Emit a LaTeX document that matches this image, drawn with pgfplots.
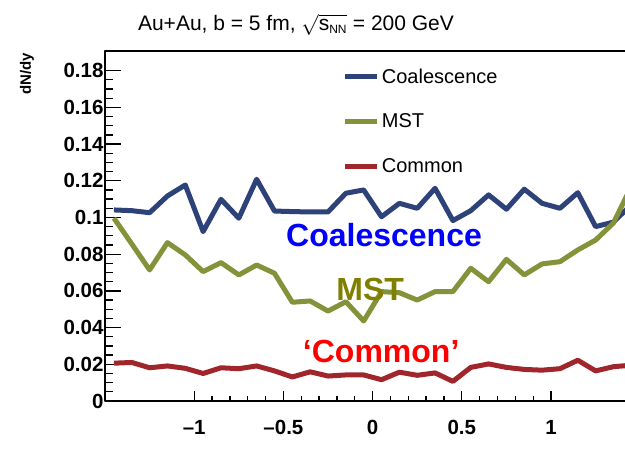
\documentclass[border=0pt]{standalone}
\usepackage{pgfplots}
\pgfplotsset{compat=1.18}
\usepackage{pgfplotstable}
\usepackage{fontspec}
\setmainfont{Liberation Sans}

\definecolor{coalblue}{RGB}{46,66,122}
\definecolor{mstgreen}{RGB}{132,146,58}
\definecolor{commonred}{RGB}{160,38,44}
\definecolor{annblue}{RGB}{0,0,255}
\definecolor{annolive}{RGB}{128,128,0}
\definecolor{annred}{RGB}{255,0,0}

% dN/dy per rapidity bin (bin width 0.1)
\pgfplotstableread{
y     coal    mst     common
-1.45 0.1041  0.0996  0.0206
-1.35 0.1037  0.0856  0.0210
-1.25 0.1026  0.0714  0.0181
-1.15 0.1117  0.0863  0.0191
-1.05 0.1177  0.0796  0.0178
-0.95 0.0923  0.0705  0.0150
-0.85 0.1099  0.0754  0.0181
-0.75 0.0996  0.0687  0.0176
-0.65 0.1208  0.0741  0.0191
-0.55 0.1035  0.0696  0.0164
-0.45 0.1032  0.0538  0.0131
-0.35 0.1030  0.0545  0.0159
-0.25 0.1030  0.0490  0.0136
-0.15 0.1132  0.0541  0.0142
-0.05 0.1150  0.0436  0.0142
0.05  0.1004  0.0596  0.0116
0.15  0.1077  0.0590  0.0157
0.25  0.1050  0.0550  0.0140
0.35  0.1159  0.0596  0.0153
0.45  0.0983  0.0596  0.0107
0.55  0.1037  0.0723  0.0183
0.65  0.1123  0.0650  0.0202
0.75  0.1045  0.0772  0.0183
0.85  0.1154  0.0687  0.0172
0.95  0.1077  0.0747  0.0168
1.05  0.1050  0.0759  0.0176
1.15  0.1135  0.0823  0.0222
1.25  0.0950  0.0877  0.0164
1.35  0.0975  0.0970  0.0187
1.45  0.1070  0.1170  0.0195
}\dndy

\begin{document}
\begin{tikzpicture}
\begin{axis}[
  at={(105pt,47pt)}, anchor=south west,
  scale only axis, width=522.5pt, height=350pt,
  xmin=-1.5, xmax=1.4286, ymin=0, ymax=0.1907,
  axis line style={line width=1.8pt},
  tick align=inside,
  xtick pos=left, ytick pos=left,
  xtick={-1,-0.5,0,0.5,1},
  xticklabels={–1,–0.5,0,0.5,1},
  ytick={0,0.02,0.04,0.06,0.08,0.1,0.12,0.14,0.16,0.18},
  yticklabels={0,0.02,0.04,0.06,0.08,0.1,0.12,0.14,0.16,0.18},
  scaled ticks=false,
  minor x tick num=4, minor y tick num=3,
  xtick style={line width=1.3pt, black, /pgfplots/major tick length=10pt, /pgfplots/minor tick length=5pt},
  ytick style={line width=1.3pt, black, /pgfplots/major tick length=16pt, /pgfplots/minor tick length=8pt},
  tick label style={font=\bfseries\fontsize{20.5}{20.5}\selectfont},
  /pgf/number format/assume math mode=true,
  xticklabel style={yshift=-16pt},
  yticklabel style={xshift=2pt},
  legend style={draw=none, fill=none, at={(0.455,0.955)}, anchor=north west,
    font=\fontsize{20}{20}\selectfont, row sep=25pt, inner sep=0pt},
  legend cell align=left,
  legend image code/.code={\draw[#1, line width=5pt] (0pt,0pt) -- (32pt,0pt);},
  line join=round,
]
\addplot[coalblue, line width=5pt] table[x=y, y=coal] {\dndy};
\addlegendentry{Coalescence}
\addplot[mstgreen, line width=5pt] table[x=y, y=mst] {\dndy};
\addlegendentry{MST}
\addplot[commonred, line width=5pt] table[x=y, y=common] {\dndy};
\addlegendentry{Common}

\node[font=\bfseries\fontsize{32}{32}\selectfont, text=annblue] at (axis cs:0.064,0.0905) {Coalescence};
\node[font=\bfseries\fontsize{32}{32}\selectfont, text=annolive] at (axis cs:-0.014,0.0605) {MST};
\node[font=\bfseries\fontsize{32}{32}\selectfont, text=annred] at (axis cs:0.048,0.0272) {‘Common’};
\end{axis}

\node[font=\fontsize{21}{21}\selectfont] at (296pt,423pt)
  {Au+Au, b = 5 fm, $\sqrt{\mbox{s}_{\mbox{\fontsize{12}{12}\selectfont NN}}}$ = 200 GeV};
\node[inner sep=0pt, anchor=north] at (27pt,395pt)
  {\rotatebox{90}{\bfseries\fontsize{15}{15}\selectfont dN/dy}};

\pgfresetboundingbox
\path[use as bounding box] (0pt,0pt) rectangle (625pt,448pt);
\end{tikzpicture}
\end{document}
